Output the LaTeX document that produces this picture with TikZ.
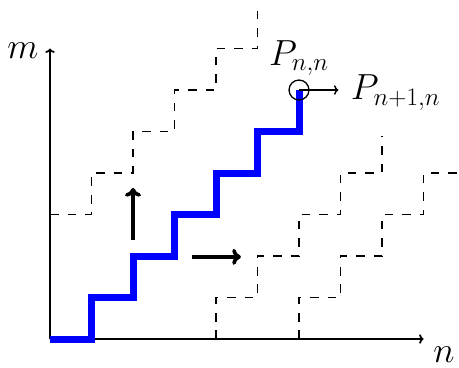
\documentclass[tikz,border=0pt]{standalone}
\usetikzlibrary{arrows.meta}
\begin{document}
\begin{tikzpicture}[
  axis/.style={-{To[length=3pt,width=6.5pt]}, line width=1.2pt},
  gridpath/.style={dash pattern=on 6pt off 6pt, line width=0.8pt},
  mainpath/.style={blue, line width=4.8pt},
  bigarrow/.style={-{To[length=6pt,width=11pt]}, line width=2.5pt},
  smallarrow/.style={-{To[length=3pt,width=6.5pt]}, line width=1pt},
  lbl/.style={font=\fontsize{24}{29}\selectfont, inner sep=0pt}
]
\useasboundingbox (-1.205,-0.675) rectangle (9.855,8.169);
\coordinate (O) at (0,0);
\coordinate (X) at (9,0);
\coordinate (Y) at (0,7);
\draw[axis] (O) -- (X);
\draw[axis] (O) -- (Y);
\node[lbl] (mlab) at (-0.65,6.94) {$m$};
\node[lbl] (nlab) at (9.49,-0.38) {$n$};
% dashed paths
\draw[gridpath] (0,3) -- (1,3) -- (1,4) -- (2,4) -- (2,5) -- (3,5) -- (3,6) -- (4,6) -- (4,7) -- (5,7) -- (5,8);
\draw[gridpath] (4,0) -- (4,1) -- (5,1) -- (5,2) -- (6,2) -- (6,3) -- (7,3) -- (7,4) -- (8,4) -- (8,4.9);
\draw[gridpath] (6,0) -- (6,1) -- (7,1) -- (7,2) -- (8,2) -- (8,3) -- (9,3) -- (9,4) -- (9.855,4);
% main path
\draw[mainpath] (0,0) -- (1,0) -- (1,1) -- (2,1) -- (2,2) -- (3,2) -- (3,3) -- (4,3) -- (4,4) -- (5,4) -- (5,5) -- (6,5) -- (6,6);
% thick arrows
\coordinate (ua) at (2,2.39);
\coordinate (ub) at (2,3.64);
\draw[bigarrow] (ua) -- (ub);
\coordinate (ra) at (3.41,1.98);
\coordinate (rb) at (4.60,1.98);
\draw[bigarrow] (ra) -- (rb);
% point
\node[circle, draw, line width=0.9pt, minimum size=0.48cm, inner sep=0pt] (Pnn) at (6,6) {};
\coordinate (Pn1) at (6.95,6);
\draw[smallarrow] (Pnn.center) -- (Pn1);
\node[lbl, anchor=base] (Lnn) at (6.0,6.60) {$P_{n,n}$};
\node[lbl, anchor=base west] (Ln1) at (7.24,5.76) {$P_{n+1,n}$};
\end{tikzpicture}
\end{document}
